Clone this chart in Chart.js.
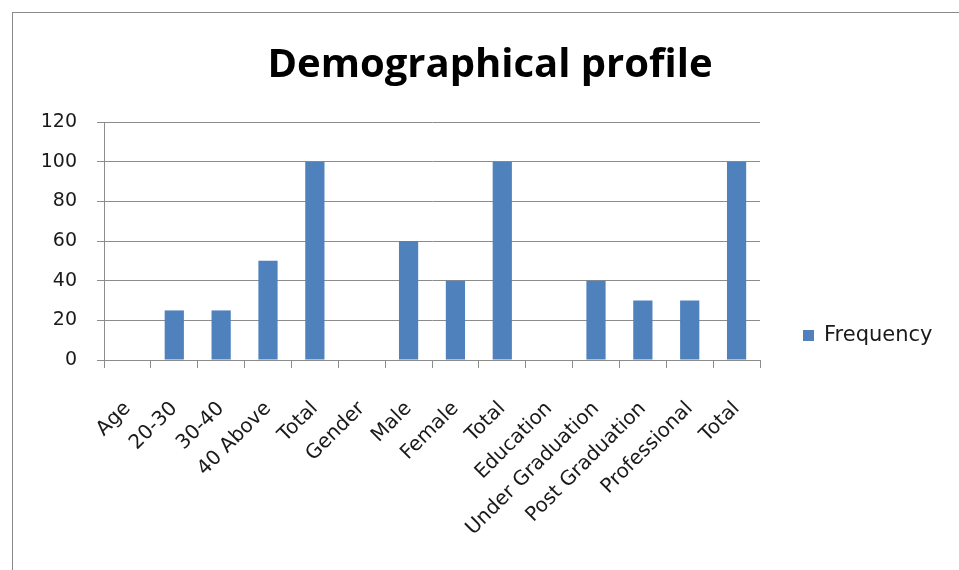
<!DOCTYPE html>
<html>
<head>
<meta charset="utf-8">
<script src="https://cdn.jsdelivr.net/npm/chart.js@4/dist/chart.umd.min.js"></script>
<style>
  html, body { margin: 0; padding: 0; background: #fff; }
  #wrap { position: relative; width: 959px; height: 570px; overflow: hidden; }
  #frame { position: absolute; left: 12px; top: 12px; width: 980px; height: 600px;
           border-left: 1px solid #8a8a8a; border-top: 1px solid #8a8a8a; }
  canvas { position: absolute; left: 0; top: 0; }
</style>
</head>
<body>
<div id="wrap">
  <div id="frame"></div>
  <canvas id="demoChart" width="959" height="570"></canvas>
</div>
<script>
// Datos del gráfico
const categories = ['Age', '20-30', '30-40', '40 Above', 'Total', 'Gender', 'Male', 'Female',
                    'Total', 'Education', 'Under Graduation', 'Post Graduation', 'Professional', 'Total'];
const frequency  = [null, 25, 25, 50, 100, null, 60, 40, 100, null, 40, 30, 30, 100];
const yTicks     = [0, 20, 40, 60, 80, 100, 120];

const FONT  = '"DejaVu Sans", sans-serif';
const TITLE = '"Open Sans", sans-serif';

// Leyenda a la derecha, dibujada a mano
const sideLegend = {
  id: 'sideLegend',
  afterDraw(chart) {
    const ctx = chart.ctx;
    const ds = chart.data.datasets[0];
    const x = chart.chartArea.right + 43;
    ctx.save();
    ctx.fillStyle = ds.backgroundColor;
    ctx.fillRect(x, 330, 11, 11);
    ctx.fillStyle = '#1a1a1a';
    ctx.font = '21px ' + FONT;
    ctx.textBaseline = 'middle';
    ctx.fillText(ds.label, x + 21, 336);
    ctx.restore();
  }
};

const ctx = document.getElementById('demoChart').getContext('2d');
new Chart(ctx, {
  type: 'bar',
  data: {
    labels: categories,
    datasets: [{
      label: 'Frequency',
      data: frequency,
      backgroundColor: '#4f81bd',
      borderWidth: 0,
      barPercentage: 0.41,
      categoryPercentage: 1
    }]
  },
  options: {
    responsive: false,
    animation: false,
    layout: { padding: { left: 21, right: 0, top: 0, bottom: 0 } },
    plugins: {
      legend: { display: false },
      tooltip: { enabled: false },
      title: {
        display: true,
        text: 'Demographical profile',
        color: '#000',
        font: { family: TITLE, size: 40, weight: 'bold', lineHeight: 1.2 },
        padding: { top: 42, bottom: 32 }
      }
    },
    scales: {
      x: {
        offset: true,
        afterFit(axis) { axis.height = 210; },
        grid: { offset: true, drawOnChartArea: false, drawTicks: true, tickLength: 8, color: '#8c8c8c' },
        border: { color: '#8c8c8c' },
        ticks: {
          autoSkip: false, minRotation: 45, maxRotation: 45, padding: 29, labelOffset: 0,
          color: '#1a1a1a', font: { family: FONT, size: 20 }
        }
      },
      y: {
        min: 0, max: 120,
        afterFit(axis) { axis.width = 83; },
        afterBuildTicks(axis) { axis.ticks = yTicks.map(v => ({ value: v })); },
        grid: { color: '#8c8c8c', tickLength: 7, lineWidth: 1 },
        border: { color: '#8c8c8c' },
        ticks: { padding: 20, color: '#1a1a1a', font: { family: FONT, size: 19 } }
      },
      // columna vacía a la derecha para la leyenda
      legendCol: {
        type: 'linear', position: 'right', display: true,
        afterFit(axis) { axis.width = 199; },
        grid: { display: false }, border: { display: false },
        ticks: { display: false }
      }
    }
  },
  plugins: [sideLegend]
});
</script>
</body>
</html>
